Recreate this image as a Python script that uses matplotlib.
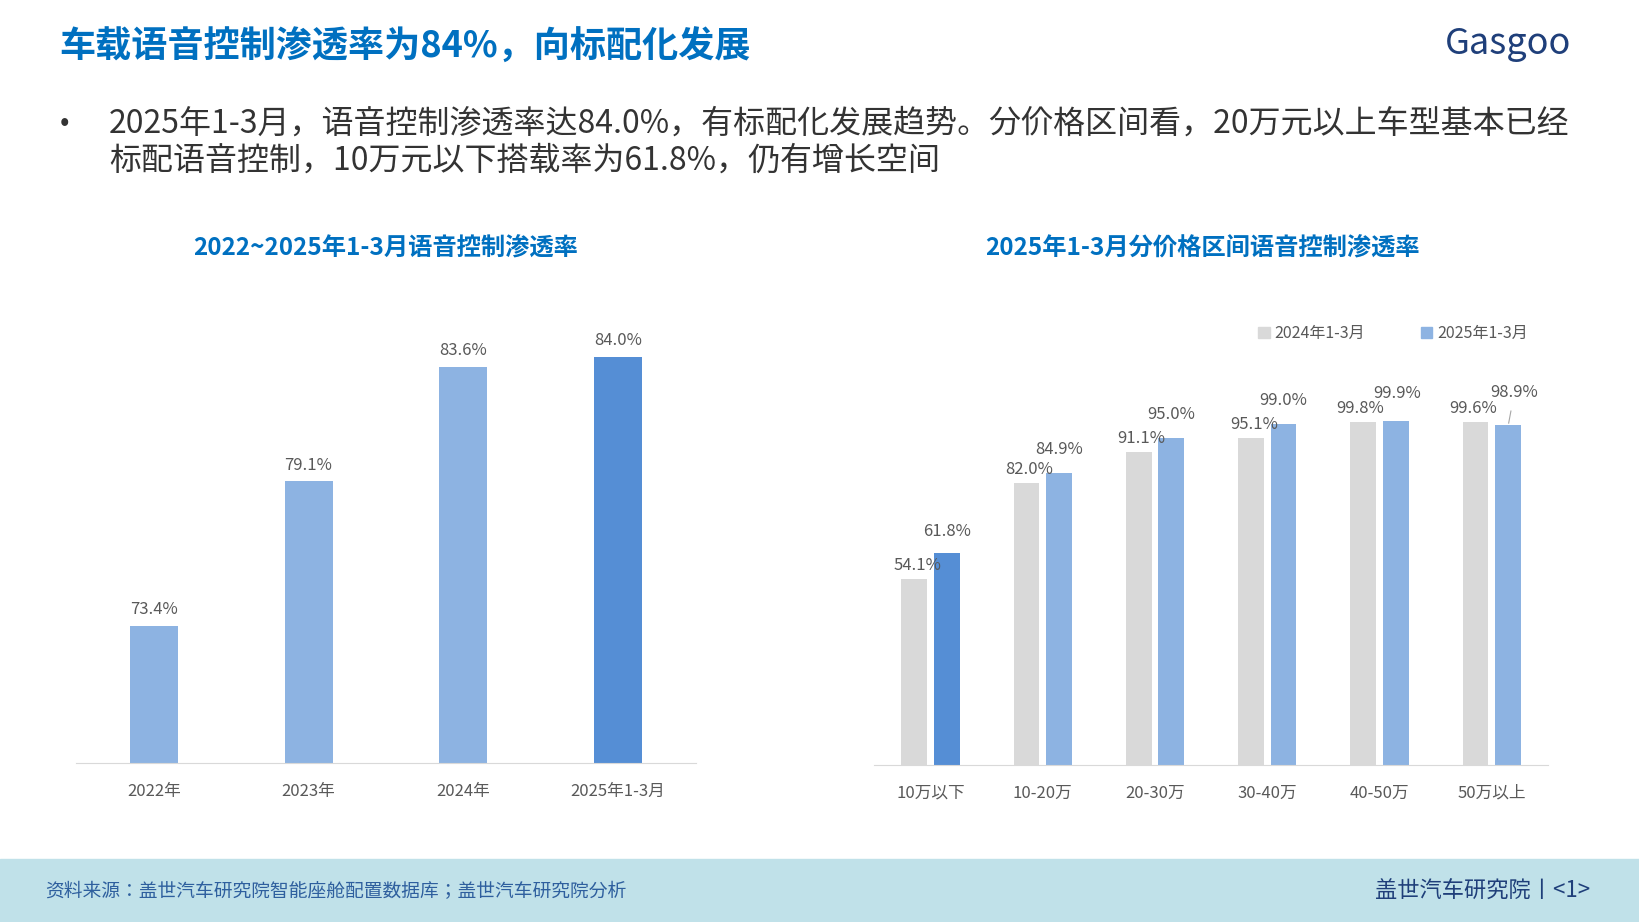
import matplotlib
matplotlib.use("Agg")
import matplotlib.pyplot as plt
from matplotlib.patches import Rectangle, Patch
from matplotlib import font_manager as fm

years = ["2022年", "2023年", "2024年", "2025年1-3月"]
year_vals = [73.4, 79.1, 83.6, 84.0]
price_cats = ["10万以下", "10-20万", "20-30万", "30-40万", "40-50万", "50万以上"]
vals_2024 = [54.1, 82.0, 91.1, 95.1, 99.8, 99.6]
vals_2025 = [61.8, 84.9, 95.0, 99.0, 99.9, 98.9]
series_names = ["2024年1-3月", "2025年1-3月"]

names = sorted({f.name for f in fm.fontManager.ttflist})
cjk = [n for n in ["Noto Sans CJK SC", "Noto Sans CJK JP", "Noto Sans CJK TC", "Noto Sans CJK KR"] if n in names]
cjk += [n for n in names if "CJK" in n and n not in cjk]
plt.rcParams["font.family"] = "sans-serif"
plt.rcParams["font.sans-serif"] = cjk + ["DejaVu Sans"]

W, H = 1568, 882
fig = plt.figure(figsize=(16.4, 9.22), dpi=100)
def fx(x): return x / W
def fy(y): return 1 - y / H

BLUE_T = "#0070c0"; LB = "#8db3e2"; DB = "#558ed5"; GR = "#d9d9d9"

fig.text(fx(57), fy(45), "车载语音控制渗透率为84%，向标配化发展", fontsize=26, color=BLUE_T,
         fontweight="bold", va="center")
fig.text(fx(1442), fy(42), "Gasgoo", fontsize=26, color="#1f3f7a", style="italic", va="center", ha="center")
fig.text(fx(57), fy(118), "•", fontsize=20, color="#333333", va="center")
fig.text(fx(104), fy(118), "2025年1-3月，语音控制渗透率达84.0%，有标配化发展趋势。分价格区间看，20万元以上车型基本已经",
         fontsize=23, color="#333333", va="center")
fig.text(fx(104), fy(154), "标配语音控制，10万元以下搭载率为61.8%，仍有增长空间",
         fontsize=23, color="#333333", va="center")
fig.text(fx(369), fy(238), "2022~2025年1-3月语音控制渗透率", fontsize=17.5, color=BLUE_T, ha="center", va="center", fontweight="bold")
fig.text(fx(1150), fy(238), "2025年1-3月分价格区间语音控制渗透率", fontsize=17.5, color=BLUE_T, ha="center", va="center", fontweight="bold")

fig.patches.append(Rectangle((0, 0), 1, fy(822), transform=fig.transFigure, color="#c0e1e9", zorder=0))
fig.text(fx(43), fy(853), "资料来源：盖世汽车研究院智能座舱配置数据库；盖世汽车研究院分析", fontsize=13.5,
         color="#2e5f9e", style="italic", va="center")
fig.text(fx(1520), fy(853), "盖世汽车研究院丨<1>", fontsize=16, color="#1f3f7a", va="center", ha="right")

# left chart
ax1 = fig.add_axes([fx(73), fy(730), fx(665 - 73), fy(147) - fy(730)])
cols = [LB, LB, LB, DB]
x = range(len(years))
ax1.bar(x, year_vals, width=0.31, color=cols)
for i, v in enumerate(year_vals):
    ax1.text(i, v + 0.3, f"{v:.1f}%", ha="center", va="bottom", fontsize=12, color="#595959")
ax1.set_ylim(68, 92)
ax1.set_xlim(-0.5, 3.5)
ax1.set_xticks(list(x)); ax1.set_xticklabels(years, fontsize=12, color="#595959")
ax1.tick_params(length=0, pad=14); ax1.set_yticks([])
for s in ["top", "right", "left"]: ax1.spines[s].set_visible(False)
ax1.spines["bottom"].set_color("#d9d9d9")

# right chart
ax2 = fig.add_axes([fx(836), fy(732), fx(1480 - 836), fy(304) - fy(732)])
xs = list(range(len(price_cats)))
w = 0.23
ax2.bar([i - 0.145 for i in xs], vals_2024, width=w, color=GR)
ax2.bar([i + 0.145 for i in xs], vals_2025, width=w, color=[DB] + [LB] * 5)
for i in xs:
    lx = i - 0.17 if i >= 4 else i - 0.12
    ax2.text(lx, vals_2024[i] + 1.5, f"{vals_2024[i]:.1f}%", ha="center", va="bottom", fontsize=12, color="#595959")
    dx = 0.2 if i == 5 else (0.16 if i == 4 else 0.145)
    dy = 3.5 if i == 0 else (7 if i == 5 else (5.5 if i == 4 else 4.5))
    ax2.text(i + dx, vals_2025[i] + dy, f"{vals_2025[i]:.1f}%", ha="center",
             va="bottom", fontsize=12, color="#595959")
ax2.plot([5.15, 5.17], [vals_2025[5] + 0.5, vals_2025[5] + 4], color="#a6a6a6", lw=0.8)
ax2.set_ylim(0, 130)
ax2.set_xlim(-0.5, 5.5)
ax2.set_xticks(xs); ax2.set_xticklabels(price_cats, fontsize=12, color="#595959")
ax2.tick_params(length=0, pad=14); ax2.set_yticks([])
for s in ["top", "right", "left"]: ax2.spines[s].set_visible(False)
ax2.spines["bottom"].set_color("#d9d9d9")
handles = [Patch(color=GR, label=series_names[0]), Patch(color=LB, label=series_names[1])]
ax2.legend(handles=handles, loc="center", bbox_to_anchor=(0.77, 0.965), ncol=2, frameon=False, fontsize=11.5,
           handlelength=0.7, handleheight=0.7, handletextpad=0.3, columnspacing=3.5, labelcolor="#595959")

fig.savefig("out.png", dpi=100)
